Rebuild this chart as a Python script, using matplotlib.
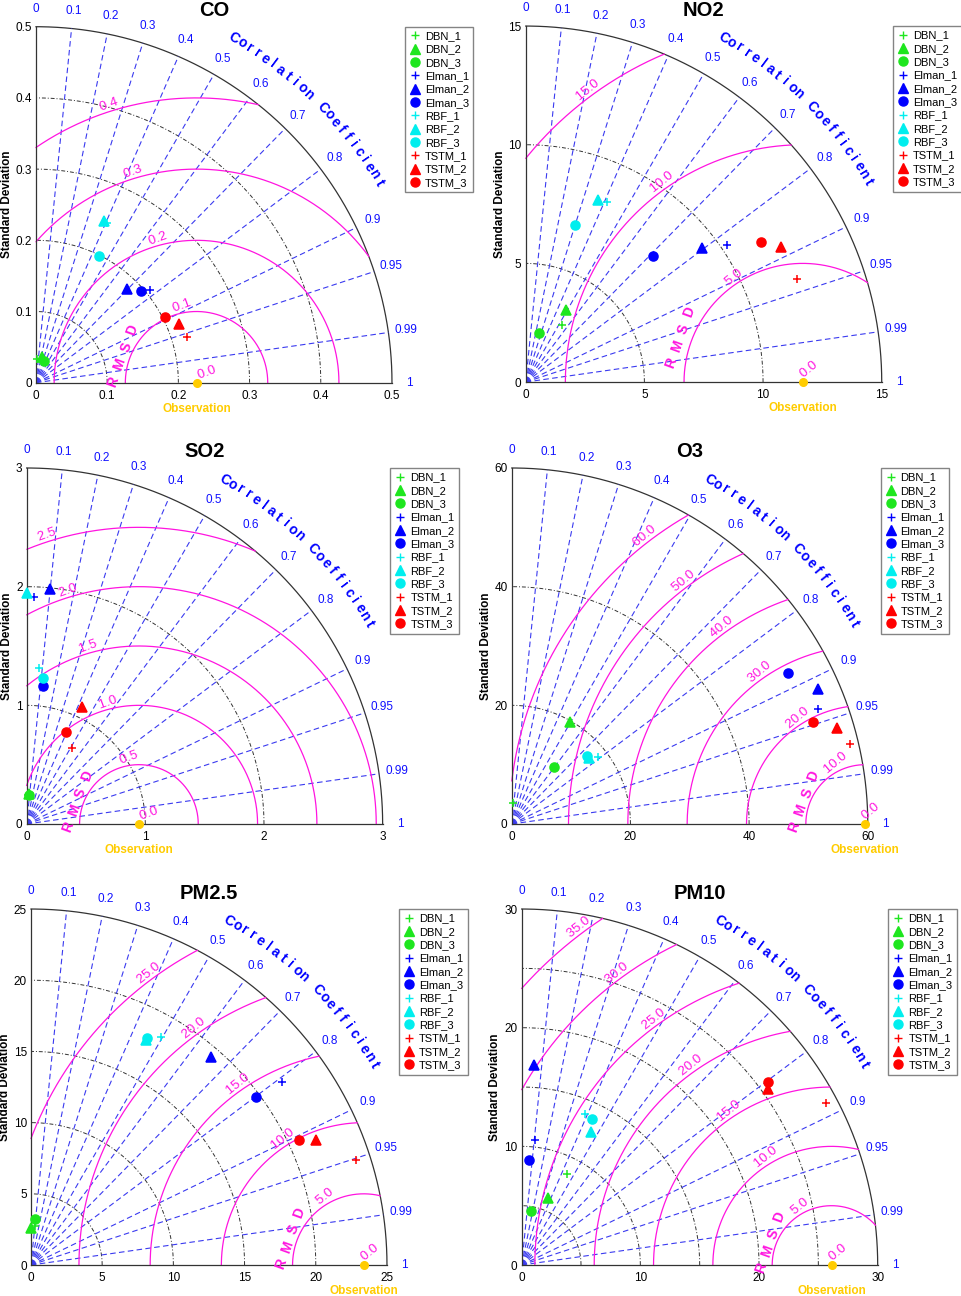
import numpy as np
import matplotlib.pyplot as plt
from matplotlib.lines import Line2D

plt.rcParams['font.family'] = ['Liberation Sans', 'DejaVu Sans']

titles = ['CO', 'NO2', 'SO2', 'O3', 'PM2.5', 'PM10']
models = ['DBN_1', 'DBN_2', 'DBN_3', 'Elman_1', 'Elman_2', 'Elman_3',
          'RBF_1', 'RBF_2', 'RBF_3', 'TSTM_1', 'TSTM_2', 'TSTM_3']

# standard deviation of observations
obs_std = [0.2255, 11.67, 0.946, 59.56, 23.37, 26.11]

# model std / correlation, one list per pollutant (order = models)
co_std = [0.034, 0.0371, 0.0320, 0.2062, 0.1832, 0.1956, 0.2458, 0.2465, 0.1990, 0.2214, 0.2171, 0.2039]
co_corr = [0.03, 0.243, 0.344, 0.776, 0.699, 0.752, 0.403, 0.389, 0.447, 0.957, 0.926, 0.892]
no2_std = [2.863, 3.470, 2.130, 10.243, 9.342, 7.566, 8.312, 8.228, 6.933, 12.217, 12.154, 11.530]
no2_corr = [0.534, 0.493, 0.272, 0.827, 0.796, 0.711, 0.410, 0.368, 0.297, 0.935, 0.884, 0.859]
so2_std = [0.2414, 0.250, 0.242, 1.915, 1.994, 1.1674, 1.3173, 1.948, 1.2416, 0.7457, 1.0907, 0.8475]
so2_corr = [0.058, 0.088, 0.091, 0.032, 0.0998, 0.120, 0.0805, 0.0, 0.110, 0.518, 0.424, 0.396]
o3_std = [3.491, 19.848, 11.992, 55.156, 56.377, 53.057, 18.379, 17.115, 17.074, 58.656, 57.195, 53.601]
o3_corr = [0.080, 0.497, 0.594, 0.936, 0.915, 0.878, 0.787, 0.764, 0.739, 0.973, 0.959, 0.947]
pm25_std = [2.722, 2.610, 3.252, 21.774, 19.315, 19.750, 18.476, 17.755, 17.885, 24.012, 21.888, 20.802]
pm25_corr = [0.0955, 0.008, 0.086, 0.808, 0.656, 0.8015, 0.496, 0.456, 0.456, 0.9516, 0.916, 0.906]
pm10_std = [8.573, 6.056, 4.597, 10.609, 16.882, 8.863, 13.790, 12.595, 13.637, 29.040, 25.468, 25.814]
pm10_corr = [0.447, 0.360, 0.170, 0.1056, 0.0616, 0.0722, 0.388, 0.462, 0.433, 0.882, 0.814, 0.803]

all_std = [co_std, no2_std, so2_std, o3_std, pm25_std, pm10_std]
all_corr = [co_corr, no2_corr, so2_corr, o3_corr, pm25_corr, pm10_corr]

std_max = [0.5, 15, 3, 60, 25, 30]
std_ticks = [[0, 0.1, 0.2, 0.3, 0.4, 0.5], [0, 5, 10, 15], [0, 1, 2, 3],
             [0, 20, 40, 60], [0, 5, 10, 15, 20, 25], [0, 10, 20, 30]]
std_circles = [[0.1, 0.2, 0.3, 0.4], [5, 10], [1, 2], [20, 40],
               [5, 10, 15, 20], [5, 10, 15, 20, 25]]
rms_ticks = [[0.1, 0.2, 0.3, 0.4], [5, 10, 15], [0.5, 1.0, 1.5, 2.0, 2.5],
             [10, 20, 30, 40, 50, 60], [5, 10, 15, 20, 25], [5, 10, 15, 20, 25, 30, 35]]
rms_angle = [110, 129, 110, 130, 129, 129]

corr_ticks = [0, 0.1, 0.2, 0.3, 0.4, 0.5, 0.6, 0.7, 0.8, 0.9, 0.95, 0.99, 1]
corr_labels = ['0', '0.1', '0.2', '0.3', '0.4', '0.5', '0.6', '0.7', '0.8', '0.9', '0.95', '0.99', '1']

colors = ['#1ee61e'] * 3 + ['#0000ff'] * 3 + ['#00eeee'] * 3 + ['#ff0000'] * 3
markers = ['+', '^', 'o'] * 4
msizes = [6, 6.5, 6.5] * 4

# axes boxes in figure fraction: left, bottom
boxes = [(0.0374, 0.7047), (0.5465, 0.7052), (0.0277, 0.3642),
         (0.5320, 0.3642), (0.0322, 0.0239), (0.5423, 0.0239)]
legx = [1.036, 1.032, 1.022, 1.036, 1.034, 1.03]

pink = '#ff14e0'
lblue = '#3a3af0'
gold = '#ffcc00'

fig = plt.figure(figsize=(9.62, 12.96), dpi=100)

for k in range(6):
    R = std_max[k]
    obs = obs_std[k]
    ax = fig.add_axes([boxes[k][0], boxes[k][1], 356 / 962, 356 / 1296])
    ax.set_xlim(0, R)
    ax.set_ylim(0, R)
    for s in ['top', 'right']:
        ax.spines[s].set_visible(False)
    for s in ['left', 'bottom']:
        ax.spines[s].set_color('#333333')
        ax.spines[s].set_linewidth(0.9)
    ax.set_xticks(std_ticks[k])
    ax.set_yticks(std_ticks[k])
    ax.set_xticklabels([('%g' % t) for t in std_ticks[k]])
    ax.set_yticklabels([('%g' % t) for t in std_ticks[k]])
    ax.tick_params(axis='x', length=0, pad=5, labelsize=8.5)
    ax.tick_params(axis='y', length=0, pad=3, labelsize=8.5)
    ax.set_ylabel('Standard Deviation', fontsize=8.5, fontweight='bold', labelpad=2)

    th = np.linspace(0, np.pi / 2, 400)
    # outer arc
    ax.plot(R * np.cos(th), R * np.sin(th), color='#333333', lw=0.9, clip_on=False)
    # std circles
    for s in std_circles[k]:
        ax.plot(s * np.cos(th), s * np.sin(th), color='#333333', lw=0.7,
                linestyle=(0, (4, 2, 1, 2)))
    # correlation rays
    for c in corr_ticks[1:-1]:
        a = np.arccos(c)
        ax.plot([0, R * np.cos(a)], [0, R * np.sin(a)], color=lblue, lw=0.8,
                linestyle=(0, (5, 3)))
    for c, lab in zip(corr_ticks, corr_labels):
        a = np.arccos(c)
        ax.text(1.05 * R * np.cos(a), 1.05 * R * np.sin(a), lab, color='#1010ff',
                fontsize=8.5, ha='center', va='center')
    txt = 'Correlation Coefficient'
    angs = np.linspace(60.15, 30.2, len(txt))
    for ch, a in zip(txt, angs):
        if ch == ' ':
            continue
        ar = np.radians(a)
        ax.text(1.115 * R * np.cos(ar), 1.115 * R * np.sin(ar), ch, color='#0000ff',
                fontsize=10, fontweight='bold', rotation=a - 90,
                ha='center', va='center')

    # RMS circles
    tt = np.linspace(0, np.pi, 3000)
    for r in rms_ticks[k]:
        x = obs + r * np.cos(tt)
        y = r * np.sin(tt)
        bad = (x < 0) | (x ** 2 + y ** 2 > R ** 2)
        x = np.where(bad, np.nan, x)
        y = np.where(bad, np.nan, y)
        ax.plot(x, y, color=pink, lw=0.9, clip_on=False)
    ra = np.radians(rms_angle[k])
    for r in [0.0] + rms_ticks[k]:
        ax.text(obs + r * np.cos(ra), r * np.sin(ra), ' %.1f' % r, color=pink,
                fontsize=9.5, rotation=rms_angle[k] - 90, rotation_mode='anchor',
                ha='left', va='bottom')
    # RMSD title
    rt = 1.1 * rms_ticks[k][0]
    tr = np.radians(160)
    cx, cy = obs + rt * np.cos(tr), rt * np.sin(tr)
    d = np.radians(70)
    step = 18.3 / 357 * R
    for i, ch in enumerate('RMSD'):
        o = (i - 1.5) * step
        ax.text(cx + o * np.cos(d), cy + o * np.sin(d), ch, color=pink, fontsize=10,
                fontweight='bold', rotation=70, ha='center', va='center')

    # observation
    ax.plot([obs], [0], 'o', color=gold, ms=5.5, clip_on=False, zorder=6)
    ax.annotate('Observation', (obs, 0), xytext=(0, -19), textcoords='offset points',
                color=gold, fontsize=8.5, fontweight='bold', ha='center', va='center')

    # models
    sd = np.array(all_std[k])
    cr = np.array(all_corr[k])
    xs = sd * cr
    ys = sd * np.sqrt(1 - cr ** 2)
    for i in range(12):
        ax.plot(xs[i], ys[i], linestyle='none', marker=markers[i], color=colors[i],
                ms=msizes[i], mew=1.1, clip_on=False, zorder=5)

    ax.text(0.5, 1.045, titles[k], transform=ax.transAxes, ha='center', va='center',
            fontsize=14.5, fontweight='bold')

    handles = [Line2D([], [], linestyle='none', marker=markers[i], color=colors[i],
                      ms=msizes[i], mew=1.0) for i in range(12)]
    leg = ax.legend(handles, models, loc='upper left', bbox_to_anchor=(legx[k], 1.0),
                    fontsize=8, frameon=True, fancybox=False, borderaxespad=0,
                    handlelength=1.0, handletextpad=0.4, labelspacing=0.3,
                    borderpad=0.4)
    leg.get_frame().set_edgecolor('#666666')
    leg.get_frame().set_linewidth(1.0)

fig.savefig('out.png', dpi=100)
